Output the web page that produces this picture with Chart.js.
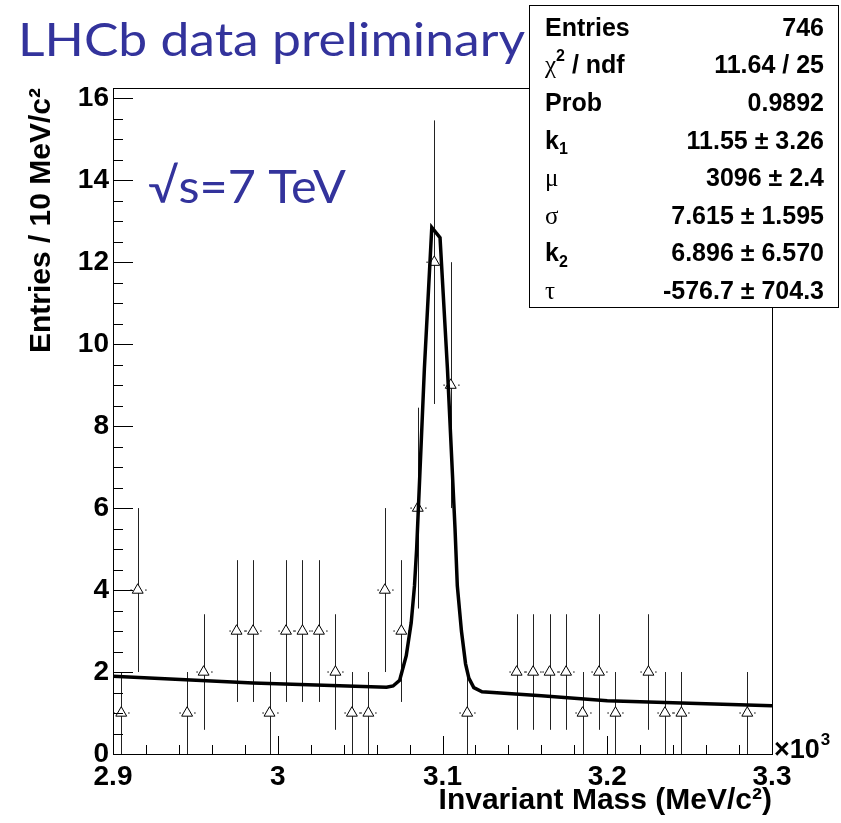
<!DOCTYPE html>
<html>
<head>
<meta charset="utf-8">
<script src="https://cdn.jsdelivr.net/npm/chart.js@4.4.1/dist/chart.umd.min.js"></script>
<style>
html, body { margin: 0; padding: 0; background: #fff; }
#Mass-Chart { display: block; }
</style>
</head>
<body>
<canvas id="Mass-Chart" width="841" height="823"></canvas>
<script>
//-------------------------------------------------- Data
const binCenters = [2905, 2915, 2945, 2955, 2975, 2985, 2995, 3005, 3015, 3025, 3035, 3045, 3055, 3065, 3075, 3085, 3095, 3105, 3115, 3145, 3155, 3165, 3175, 3185, 3195, 3205, 3225, 3235, 3245, 3285];
const entries = [1, 4, 1, 2, 3, 3, 1, 3, 3, 3, 2, 1, 1, 4, 3, 6, 12, 9, 1, 2, 2, 2, 2, 1, 2, 1, 2, 1, 1, 1];
const errors = [1, 2, 1, 1.41, 1.73, 1.73, 1, 1.73, 1.73, 1.73, 1.41, 1, 1, 2, 1.73, 2.45, 3.46, 3, 1, 1.41, 1.41, 1.41, 1.41, 1, 1.41, 1, 1.41, 1, 1, 1];

const fitMass = [2900, 2985, 3066, 3070, 3074, 3078, 3081, 3083, 3084.3, 3089, 3093.5, 3098.5, 3103, 3107.6, 3109, 3111.5, 3114, 3116, 3119, 3124, 3160, 3200, 3300];
const fitValue = [1.90, 1.73, 1.63, 1.66, 1.80, 2.4, 3.2, 4.1, 5.0, 9.4, 12.85, 12.6, 9.4, 5.5, 4.1, 3.0, 2.2, 1.85, 1.62, 1.52, 1.42, 1.30, 1.18];

const xTickValues = [2900, 3000, 3100, 3200, 3300];
const xTickLabels = ["2.9", "3", "3.1", "3.2", "3.3"];
const yTickValues = [0, 2, 4, 6, 8, 10, 12, 14, 16];

const statLabels = ["Entries", "χ^2 / ndf", "Prob", "k_1", "μ", "σ", "k_2", "τ"];
const statValues = ["746", "11.64 / 25", "0.9892", "11.55 ± 3.26", "3096 ± 2.4", "7.615 ± 1.595", "6.896 ± 6.570", "-576.7 ± 704.3"];
//^^^^^^^^^^^^^^^^^^^^^^^^^^^^^^^^^^^^^^^^^^^^^^^^^^ Data

const BLUE = "#33339c";
const SANS = "'Liberation Sans', Arial, Helvetica, sans-serif";

//-------------------------------------------------- Helpers
function drawRich(ctx, text, x, y, size) {
	// "^" = superscript next char, "_" = subscript next char, greek in serif
	let cx = x;
	for (let i = 0; i < text.length; i++) {
		let ch = text[i];
		let dy = 0, font = "bold " + size + "px " + SANS;
		if (ch == "^" || ch == "_") {
			dy = ch == "^" ? -size * 0.42 : size * 0.3;
			ch = text[++i];
			font = "bold " + Math.round(size * 0.62) + "px " + SANS;
		} else if ("χμστ".includes(ch)) {
			font = size + "px 'Liberation Serif', 'Times New Roman', serif";
		}
		ctx.font = font;
		ctx.fillText(ch, cx, y + dy);
		cx += ctx.measureText(ch).width;
	}
}

// draw text stretched horizontally so it spans a given width
function fitText(ctx, text, x, y, width) {
	const w = ctx.measureText(text).width;
	ctx.save();
	ctx.translate(x, y);
	ctx.scale(width / w, 1);
	ctx.fillText(text, 0, 0);
	ctx.restore();
}

const decorPlugin = {
	id: "decor",
	beforeDatasetsDraw(chart) {
		const {ctx, scales: {x, y}} = chart;
		ctx.save();
		ctx.strokeStyle = "#222";
		ctx.lineWidth = 1;
		binCenters.forEach((m, i) => {
			const px = Math.round(x.getPixelForValue(m)) + 0.5;
			const py = y.getPixelForValue(entries[i]);
			const hw = x.getPixelForValue(m + 5) - x.getPixelForValue(m);
			ctx.beginPath();
			ctx.moveTo(px, y.getPixelForValue(entries[i] + errors[i]));
			ctx.lineTo(px, y.getPixelForValue(Math.max(0, entries[i] - errors[i])));
			ctx.moveTo(px - hw, py); ctx.lineTo(px - 6.5, py);
			ctx.moveTo(px + 6.5, py); ctx.lineTo(px + hw, py);
			ctx.stroke();
		});
		ctx.restore();
	},
	afterDatasetsDraw(chart) {
		const {ctx, chartArea: a, scales: {x, y}} = chart;
		ctx.save();
		ctx.strokeStyle = "#000";
		ctx.lineWidth = 1;
		ctx.strokeRect(a.left + 0.5, a.top + 0.5, a.right - a.left, a.bottom - a.top);
		ctx.beginPath();
		for (let m = 2900; m <= 3300; m += 20) {
			const px = Math.round(x.getPixelForValue(m)) + 0.5;
			const len = m % 100 == 0 ? 18 : 9;
			ctx.moveTo(px, a.bottom); ctx.lineTo(px, a.bottom - len);
		}
		for (let v = 0; v <= 16; v += 0.5) {
			const py = Math.round(y.getPixelForValue(v)) + 0.5;
			const len = v % 2 == 0 ? 20 : 10;
			ctx.moveTo(a.left, py); ctx.lineTo(a.left + len, py);
		}
		ctx.stroke();
		ctx.restore();
	},
	afterDraw(chart) {
		const ctx = chart.ctx;
		ctx.save();
		// headline texts
		ctx.fillStyle = BLUE;
		ctx.textBaseline = "alphabetic";
		ctx.font = "47px Lato, 'Open Sans', sans-serif";
		fitText(ctx, "LHCb data preliminary", 18, 56, 507);
		fitText(ctx, "√s=7 TeV", 148, 203, 198);

		// stats box
		ctx.fillStyle = "#fff";
		ctx.fillRect(529, 5, 309, 302);
		ctx.strokeStyle = "#000";
		ctx.lineWidth = 1;
		ctx.strokeRect(529.5, 5.5, 309, 302);
		ctx.fillStyle = "#000";
		ctx.textBaseline = "middle";
		statLabels.forEach((lab, i) => {
			const cy = 29 + i * 37.6;
			ctx.textAlign = "left";
			drawRich(ctx, lab, 545, cy, 25);
			ctx.textAlign = "right";
			ctx.font = "bold 25px " + SANS;
			ctx.fillText(statValues[i], 824, cy);
		});

		// exponent on x axis
		ctx.textAlign = "left";
		ctx.textBaseline = "alphabetic";
		ctx.font = "bold 27px " + SANS;
		ctx.fillText("×10", 774, 758);
		const ew = ctx.measureText("×10").width;
		ctx.font = "bold 17px " + SANS;
		ctx.fillText("3", 774 + ew + 1, 745);
		ctx.restore();
	}
};

//-------------------------------------------------- Chart
new Chart(document.getElementById("Mass-Chart").getContext("2d"), {
	type: "scatter",
	data: {
		datasets: [
			{
				type: "line",
				label: "fit",
				data: fitMass.map((m, i) => ({x: m, y: fitValue[i]})),
				borderColor: "#000",
				borderWidth: 3.5,
				pointRadius: 0,
				tension: 0,
				fill: false
			},
			{
				label: "data",
				data: binCenters.map((m, i) => ({x: m, y: entries[i]})),
				pointStyle: "triangle",
				pointRadius: 6.3,
				backgroundColor: "#fff",
				borderColor: "#000",
				borderWidth: 1
			}
		]
	},
	options: {
		responsive: false,
		animation: false,
		events: [],
		layout: {padding: {top: 88, right: 69, left: 0, bottom: 0}},
		plugins: {legend: {display: false}, tooltip: {enabled: false}},
		scales: {
			x: {
				type: "linear",
				min: 2900,
				max: 3300,
				afterFit: s => { s.height = 69; },
				afterBuildTicks: s => { s.ticks = xTickValues.map(v => ({value: v})); },
				grid: {display: false, drawTicks: false},
				border: {display: false},
				ticks: {
					padding: 6,
					color: "#000",
					font: {family: SANS, size: 28, weight: "bold"},
					maxRotation: 0,
					callback: v => xTickLabels[xTickValues.indexOf(v)]
				},
				title: {
					display: true,
					text: "Invariant Mass (MeV/c²)",
					align: "end",
					color: "#000",
					font: {family: SANS, size: 30, weight: "bold"},
					padding: {top: 0, bottom: 4}
				}
			},
			y: {
				min: 0,
				max: 16.25,
				afterFit: s => { s.width = 113; },
				afterBuildTicks: s => { s.ticks = yTickValues.map(v => ({value: v})); },
				grid: {display: false, drawTicks: false},
				border: {display: false},
				ticks: {
					padding: 4,
					color: "#000",
					font: {family: SANS, size: 28, weight: "bold"}
				},
				title: {
					display: true,
					text: "Entries / 10 MeV/c²",
					align: "end",
					color: "#000",
					font: {family: SANS, size: 30, weight: "bold"},
					padding: {top: 24, bottom: 0}
				}
			}
		}
	},
	plugins: [decorPlugin]
});
</script>
</body>
</html>
